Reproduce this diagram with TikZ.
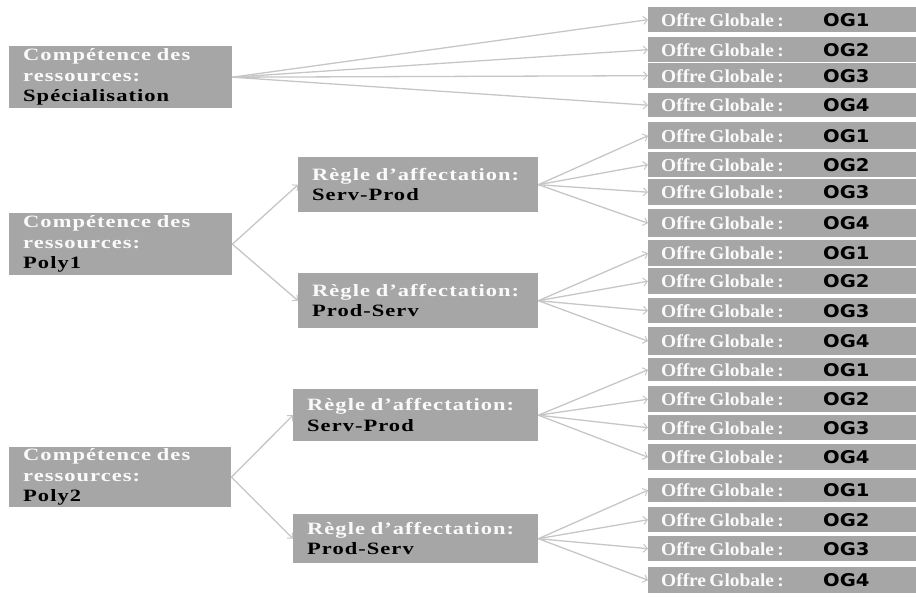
\documentclass[tikz,border=0pt]{standalone}
\usepackage{fontspec}
\setmainfont{Liberation Serif}
\newfontfamily\boxfont{Liberation Serif}[FakeStretch=1.3,LetterSpace=6]
\newfontfamily\ogserif{Liberation Serif}[FakeStretch=1.06]
\newfontfamily\ogsans{DejaVu Sans}[FakeStretch=1.12]
\usetikzlibrary{arrows.meta}
\definecolor{boxgray}{RGB}{166,166,166}
\definecolor{linegray}{RGB}{198,198,198}
\definecolor{offwhite}{RGB}{250,250,250}
\newcommand\OGtext[1]{\makebox[162pt][l]{\color{offwhite}\ogserif\bfseries\fontsize{18.3}{20}\selectfont Offre Globale :}{\ogsans\bfseries\fontsize{17.5}{20}\selectfont\color{black}#1}}
\newcommand\WT[1]{{\color{offwhite}#1}}
\tikzset{
  lbox/.style={fill=boxgray, draw=none, anchor=north west, inner xsep=14pt, inner ysep=0pt,
    align=left, font=\boxfont\bfseries\fontsize{17.3}{20.5}\selectfont},
  ogbox/.style={fill=boxgray, draw=none, anchor=north west, inner xsep=13pt, inner ysep=0pt,
    minimum width=268pt, text width=242pt, align=left},
  conn/.style={draw=linegray, line width=1.3pt, -{Straight Barb[length=4pt,width=8pt,line width=1pt]}}
}
\begin{document}
\begin{tikzpicture}[x=1pt,y=-1pt]
\useasboundingbox (0,0) rectangle (916,597);
% left boxes
\node[lbox, minimum height=62pt, text width=195pt] (c1) at (9,46) {\WT{Compétence des}\\\WT{ressources:}\\Spécialisation};
\node[lbox, minimum height=62pt, text width=195pt] (c2) at (9,213) {\WT{Compétence des}\\\WT{ressources:}\\Poly1};
\node[lbox, minimum height=60pt, text width=194pt] (c3) at (9,447) {\WT{Compétence des}\\\WT{ressources:}\\Poly2};
% middle boxes
\node[lbox, minimum height=55pt, text width=212pt] (r1) at (298,157) {\WT{Règle d’affectation:}\\Serv-Prod};
\node[lbox, minimum height=55pt, text width=212pt] (r2) at (298,273) {\WT{Règle d’affectation:}\\Prod-Serv};
\node[lbox, minimum height=52pt, text width=217pt] (r3) at (293,389) {\WT{Règle d’affectation:}\\Serv-Prod};
\node[lbox, minimum height=49pt, text width=217pt] (r4) at (293,514) {\WT{Règle d’affectation:}\\Prod-Serv};
% right boxes
\foreach \n/\t/\b/\k in {
  a1/7/32/OG1, a2/37/62/OG2, a3/63/88/OG3, a4/93/117/OG4,
  b1/122/149/OG1, b2/152/177/OG2, b3/179/205/OG3, b4/209/237/OG4,
  d1/240/266/OG1, d2/268/294/OG2, d3/298/323/OG3, d4/327/355/OG4,
  e1/358/381/OG1, e2/386/412/OG2, e3/415/440/OG3, e4/444/470/OG4,
  f1/478/502/OG1, f2/507/532/OG2, f3/536/561/OG3, f4/567/593/OG4}
  \node[ogbox, minimum height={(\b-\t)*1pt}] (\n) at (648,\t) {\OGtext{\k}};
% connectors
\foreach \x in {a1,a2,a3,a4} \draw[conn] (c1.east) -- (\x.west);
\foreach \x in {b1,b2,b3,b4} \draw[conn] (r1.east) -- (\x.west);
\foreach \x in {d1,d2,d3,d4} \draw[conn] (r2.east) -- (\x.west);
\foreach \x in {e1,e2,e3,e4} \draw[conn] (r3.east) -- (\x.west);
\foreach \x in {f1,f2,f3,f4} \draw[conn] (r4.east) -- (\x.west);
\draw[conn] (c2.east) -- (r1.west);
\draw[conn] (c2.east) -- (r2.west);
\draw[conn] (c3.east) -- (r3.west);
\draw[conn] (c3.east) -- (r4.west);
\end{tikzpicture}
\end{document}
